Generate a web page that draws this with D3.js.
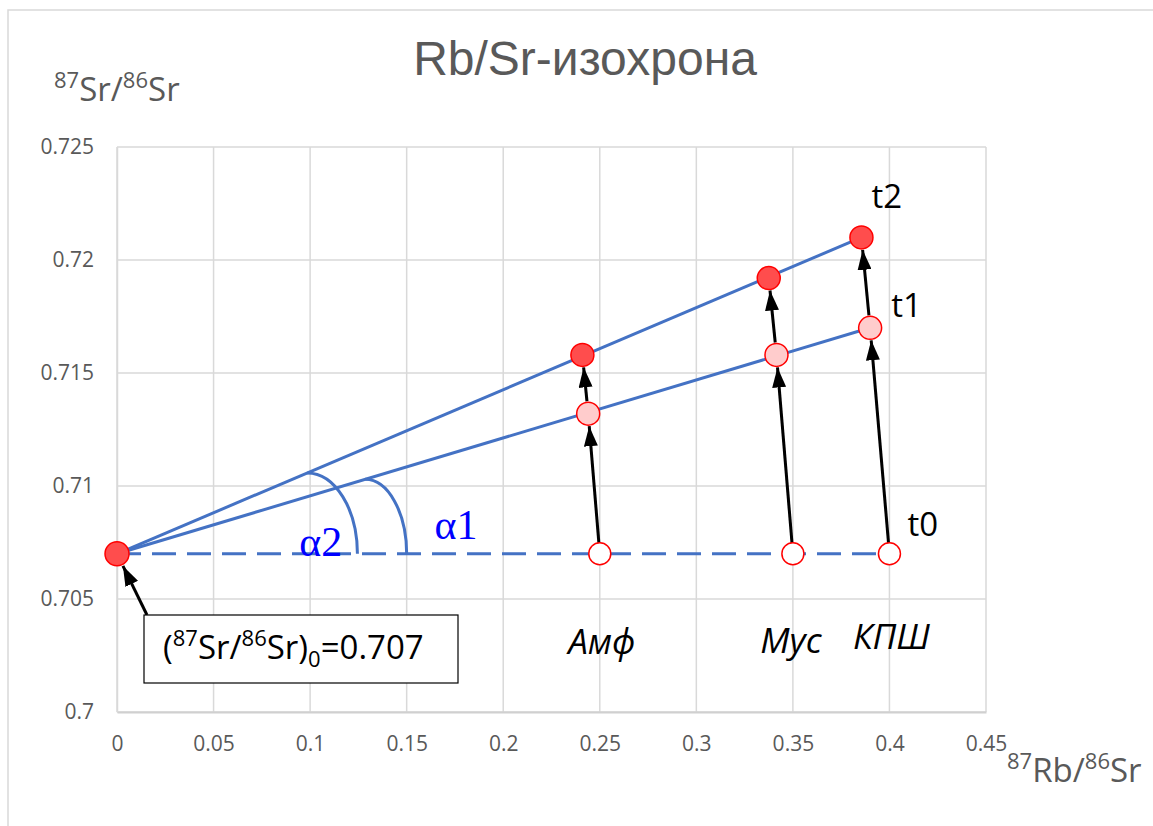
<!DOCTYPE html>
<html><head><meta charset="utf-8">
<script src="https://cdn.jsdelivr.net/npm/d3@7"></script>
<style>
body{margin:0;background:#fff;}
svg{display:block;}
</style></head>
<body>
<script>
// ---- data ----
const minerals = ["Амф", "Мус", "КПШ"];
const rbT0 = [0.25, 0.35, 0.40];
const srT0 = [0.707, 0.707, 0.707];
const rbT1 = [0.244, 0.3415, 0.390];
const srT1 = [0.7132, 0.7158, 0.7170];
const rbT2 = [0.241, 0.3375, 0.3855];
const srT2 = [0.7158, 0.7192, 0.7210];
const initialRb = 0;
const initialSr = 0.707;
const xTicks = [0, 0.05, 0.1, 0.15, 0.2, 0.25, 0.3, 0.35, 0.4, 0.45];
const yTicks = [0.7, 0.705, 0.71, 0.715, 0.72, 0.725];
const xTickLabels = ["0", "0.05", "0.1", "0.15", "0.2", "0.25", "0.3", "0.35", "0.4", "0.45"];
const yTickLabels = ["0.7", "0.705", "0.71", "0.715", "0.72", "0.725"];
const timeLabels = ["t0", "t1", "t2"];
const angleLabels = ["α1", "α2"];

// ---- layout ----
const W = 1153, H = 826;
const L = 117, R = 986, T = 147, B = 712;
const x = d3.scaleLinear().domain([0, 0.45]).range([L, R]);
const y = d3.scaleLinear().domain([0.7, 0.725]).range([B, T]);

const svg = d3.select("body").append("svg").attr("width", W).attr("height", H);
svg.append("rect").attr("width", W).attr("height", H).attr("fill", "#fff");
// outer chart border
svg.append("rect").attr("x", 8).attr("y", 10).attr("width", W + 20).attr("height", H + 20)
  .attr("fill", "none").attr("stroke", "#d9d9d9").attr("stroke-width", 1.5);

const sans = "'Open Sans', 'Noto Sans', sans-serif";
const grey = "#595959";

// defs: arrow marker
const defs = svg.append("defs");
defs.append("marker").attr("id", "ah").attr("viewBox", "0 0 20 14")
  .attr("refX", 20).attr("refY", 7).attr("markerWidth", 20).attr("markerHeight", 14)
  .attr("markerUnits", "userSpaceOnUse").attr("orient", "auto")
  .append("path").attr("d", "M0,0 L20,7 L0,14 Z").attr("fill", "#000");

// grid
const grid = svg.append("g");
grid.selectAll("line.v").data(xTicks).join("line")
  .attr("x1", d => x(d)).attr("x2", d => x(d)).attr("y1", T).attr("y2", B)
  .attr("stroke", "#d9d9d9").attr("stroke-width", 1.5);
grid.selectAll("line.h").data(yTicks).join("line")
  .attr("x1", L).attr("x2", R).attr("y1", d => y(d)).attr("y2", d => y(d))
  .attr("stroke", "#d9d9d9").attr("stroke-width", 1.5);

// axes
const xAxis = d3.axisBottom(x).tickValues(xTicks).tickFormat((d, i) => xTickLabels[i]).tickSize(0).tickPadding(24);
const gx = svg.append("g").attr("transform", `translate(0,${B})`).call(xAxis);
gx.select(".domain").attr("stroke", "#d0d0d0").attr("stroke-width", 2);
gx.selectAll("text").attr("font-family", sans).attr("font-size", 21).attr("fill", grey);

const yAxis = d3.axisLeft(y).tickValues(yTicks).tickFormat((d, i) => yTickLabels[i]).tickSize(0).tickPadding(23);
const gy = svg.append("g").attr("transform", `translate(${L},0)`).call(yAxis);
gy.select(".domain").attr("stroke", "#d9d9d9").attr("stroke-width", 1.5);
gy.selectAll("text").attr("font-family", sans).attr("font-size", 21).attr("fill", grey);

// title
svg.append("text").attr("x", 585).attr("y", 75).attr("text-anchor", "middle")
  .attr("font-family", "'Liberation Sans', Arial, sans-serif").attr("font-size", 48)
  .attr("fill", grey).text("Rb/Sr-изохрона");

// helper for superscript labels
function supText(g, parts, size, small, fill) {
  const t = g.append("text").attr("font-family", sans).attr("font-size", size).attr("fill", fill);
  let cur = 0;
  parts.forEach(p => {
    const target = p.sup ? -size * 0.38 : (p.sub ? size * 0.25 : 0);
    t.append("tspan").attr("dy", target - cur).attr("font-size", (p.sup || p.sub) ? small : size).text(p.t);
    cur = target;
  });
  return t;
}

// axis titles
supText(svg, [{t: "87", sup: 1}, {t: "Sr/"}, {t: "86", sup: 1}, {t: "Sr"}], 33, 22, grey)
  .attr("x", 54).attr("y", 101);
supText(svg, [{t: "87", sup: 1}, {t: "Rb/"}, {t: "86", sup: 1}, {t: "Sr"}], 33, 22, grey)
  .attr("x", 1007).attr("y", 782);

// isochron lines
const blue = "#4472C4";
const lines = svg.append("g");
lines.append("line")
  .attr("x1", x(initialRb)).attr("y1", y(initialSr))
  .attr("x2", x(rbT0[2])).attr("y2", y(srT0[2]))
  .attr("stroke", blue).attr("stroke-width", 3).attr("stroke-dasharray", "24,11");
lines.append("line")
  .attr("x1", x(initialRb)).attr("y1", y(initialSr))
  .attr("x2", x(rbT1[2])).attr("y2", y(srT1[2]))
  .attr("stroke", blue).attr("stroke-width", 3);
lines.append("line")
  .attr("x1", x(initialRb)).attr("y1", y(initialSr))
  .attr("x2", x(rbT2[2])).attr("y2", y(srT2[2]))
  .attr("stroke", blue).attr("stroke-width", 3);

// angle arcs (quarter ellipses from isochron to horizontal)
const slope1 = (srT1[2] - initialSr) / (rbT1[2] - initialRb);
const slope2 = (srT2[2] - initialSr) / (rbT2[2] - initialRb);
const arcs = [
  {xs: 0.1285, xe: 0.15, slope: slope1},
  {xs: 0.0985, xe: 0.1245, slope: slope2}
];
arcs.forEach(a => {
  const sx = x(a.xs), sy = y(initialSr + a.slope * (a.xs - initialRb));
  const ex = x(a.xe), ey = y(initialSr);
  svg.append("path")
    .attr("d", `M${sx},${sy} A${ex - sx},${ey - sy} 0 0 1 ${ex},${ey}`)
    .attr("fill", "none").attr("stroke", blue).attr("stroke-width", 3);
});
svg.append("text").attr("x", x(0.1755)).attr("y", y(0.70765)).attr("text-anchor", "middle")
  .attr("font-family", "'Liberation Serif', 'DejaVu Serif', serif").attr("font-size", 42)
  .attr("fill", "#0000FF").text(angleLabels[0]);
svg.append("text").attr("x", x(0.1055)).attr("y", y(0.70692)).attr("text-anchor", "middle")
  .attr("font-family", "'Liberation Serif', 'DejaVu Serif', serif").attr("font-size", 42)
  .attr("fill", "#0000FF").text(angleLabels[1]);

// arrows
const arrows = svg.append("g");
const rr = 11.5;
function arrow(x1, y1, x2, y2, startOff, endOff) {
  const dx = x2 - x1, dy = y2 - y1, len = Math.hypot(dx, dy);
  const ux = dx / len, uy = dy / len;
  arrows.append("line")
    .attr("x1", x1 + ux * startOff).attr("y1", y1 + uy * startOff)
    .attr("x2", x2 - ux * endOff).attr("y2", y2 - uy * endOff)
    .attr("stroke", "#000").attr("stroke-width", 3).attr("marker-end", "url(#ah)");
}
minerals.forEach((m, i) => {
  arrow(x(rbT0[i]), y(srT0[i]), x(rbT1[i]), y(srT1[i]), 2, rr + 1);
  arrow(x(rbT1[i]), y(srT1[i]), x(rbT2[i]), y(srT2[i]), rr + 1, rr + 1);
});

// annotation box + arrow to initial ratio
const boxX = 144, boxY = 615, boxW = 314, boxH = 68;
svg.append("rect").attr("x", boxX).attr("y", boxY).attr("width", boxW).attr("height", boxH)
  .attr("fill", "#fff").attr("stroke", "#000").attr("stroke-width", 1.2);
arrow(boxX + 3, boxY, x(initialRb), y(initialSr), 0, rr + 2);
supText(svg, [{t: "("}, {t: "87", sup: 1}, {t: "Sr/"}, {t: "86", sup: 1}, {t: "Sr)"}, {t: "0", sub: 1}, {t: "=" + initialSr}], 33, 22, "#000")
  .attr("x", 163).attr("y", 659);

// points
const red = "#FF0000";
const pts = svg.append("g");
pts.selectAll("circle.t0").data(minerals).join("circle")
  .attr("cx", (d, i) => x(rbT0[i])).attr("cy", (d, i) => y(srT0[i])).attr("r", 11)
  .attr("fill", "#fff").attr("stroke", red).attr("stroke-width", 1.5);
pts.selectAll("circle.t1").data(minerals).join("circle")
  .attr("cx", (d, i) => x(rbT1[i])).attr("cy", (d, i) => y(srT1[i])).attr("r", rr)
  .attr("fill", "#FFCCCC").attr("stroke", red).attr("stroke-width", 1.5);
pts.selectAll("circle.t2").data(minerals).join("circle")
  .attr("cx", (d, i) => x(rbT2[i])).attr("cy", (d, i) => y(srT2[i])).attr("r", rr)
  .attr("fill", "#FF4D4D").attr("stroke", red).attr("stroke-width", 1.5);
pts.append("circle").attr("cx", x(initialRb)).attr("cy", y(initialSr)).attr("r", 12)
  .attr("fill", "#FF4D4D").attr("stroke", red).attr("stroke-width", 1.5);

// time labels
const tl = svg.append("g").attr("font-family", sans).attr("font-size", 33).attr("fill", "#000");
tl.append("text").attr("x", x(rbT0[2]) + 18).attr("y", y(srT0[2]) - 18).text(timeLabels[0]);
tl.append("text").attr("x", x(rbT1[2]) + 21).attr("y", y(srT1[2]) - 11).text(timeLabels[1]);
tl.append("text").attr("x", x(rbT2[2]) + 10).attr("y", y(srT2[2]) - 29).text(timeLabels[2]);

// mineral labels
const mOff = [2, -2, 2];
const mDy = [100, 99, 95];
svg.append("g").selectAll("text").data(minerals).join("text")
  .attr("x", (d, i) => x(rbT0[i]) + mOff[i]).attr("y", (d, i) => y(srT0[i]) + mDy[i])
  .attr("text-anchor", "middle").attr("font-family", sans).attr("font-style", "italic")
  .attr("font-size", 35).attr("fill", "#000").text(d => d);
</script>
</body></html>
